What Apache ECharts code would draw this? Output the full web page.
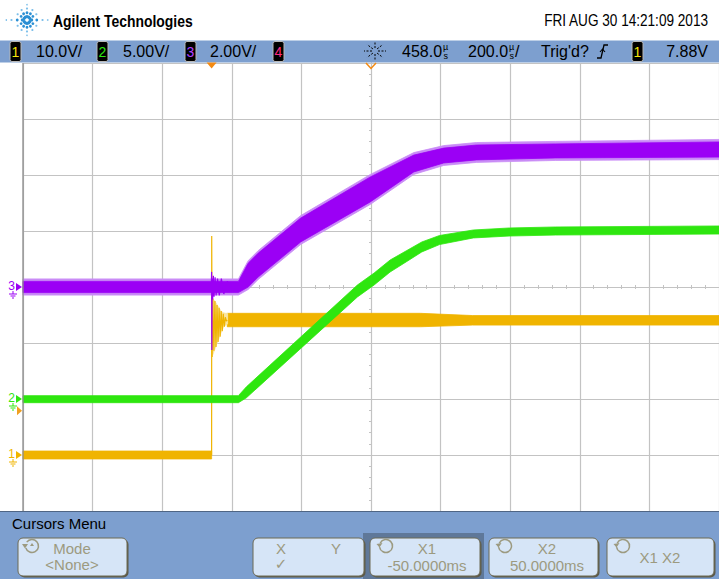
<!DOCTYPE html>
<html><head><meta charset="utf-8">
<script src="https://cdn.jsdelivr.net/npm/echarts@6/dist/echarts.min.js"></script>
<style>html,body{margin:0;padding:0;background:#fff;}#c{width:719px;height:579px;}</style>
</head><body><div id="c"></div>
<script>
// ================= DATA (read from the screen) =================
// time axis: delay 458.0 µs at screen centre, 200 µs/div, 10 divisions
const timeMinUs = -542, timeMaxUs = 1458;
// channel vertical settings: volts at bottom / top of screen
const ch1Range = [-10, 70];   // 10.0 V/div, ground 3 div below centre
const ch2Range = [-10, 30];   // 5.00 V/div, ground 2 div below centre
const ch3Range = [-8, 8];     // 2.00 V/div, ground at centre
const trigLevelV = 7.88;

// Channel 3 (purple) trace envelope, volts
const ch3Time  = [-542, 0, 77, 105, 134, 256, 456, 581, 667, 761, 989, 1458];
const ch3Lower = [-0.20, -0.20, -0.20, 0.00, 0.36, 1.61, 3.04, 4.11, 4.43, 4.54, 4.61, 4.64];
const ch3Upper = [0.20, 0.20, 0.20, 0.85, 1.21, 2.46, 3.93, 4.71, 4.96, 5.07, 5.11, 5.18];
// Channel 3 switching transient at trigger
const ch3SpikeTime = [-1, 0, 0.6, 1.5, 3, 5, 7, 10, 13, 17, 22, 28, 35, 45, 55];
const ch3SpikeV    = [0, 0.54, -2.25, 0.3, -0.45, 0.4, -0.35, 0.35, -0.3, 0.3, -0.3, 0.3, -0.25, 0.2, 0];

// Channel 2 (green) trace envelope, volts
const ch2Time  = [-542, 77, 100, 419, 467, 513, 561, 604, 655, 752, 855, 989, 1458];
const ch2Lower = [-0.33, -0.33, 0.11, 9.11, 10.18, 11.34, 12.28, 13.13, 13.79, 14.38, 14.55, 14.64, 14.73];
const ch2Upper = [0.30, 0.30, 1.09, 10.18, 11.25, 12.41, 13.26, 14.02, 14.60, 15.09, 15.27, 15.36, 15.45];

// Channel 1 (yellow) trace: before trigger, after settling, and the ringing in between
const ch1PreTime  = [-542, 0];
const ch1PreLower = [-0.71, -0.71];
const ch1PreUpper = [0.71, 0.71];
const ch1PostTime  = [45, 600, 750, 1458];
const ch1PostLower = [22.9, 22.9, 23.2, 23.2];
const ch1PostUpper = [25.3, 25.3, 24.9, 24.9];
const ch1RingEnvTime  = [1, 4, 10, 16, 22, 28, 34, 40, 46];
const ch1RingEnvLower = [17.5, 18.0, 19.0, 20.0, 21.0, 22.0, 22.8, 23.2, 23.4];
const ch1RingEnvUpper = [28.2, 27.9, 27.4, 26.8, 26.2, 25.6, 25.4, 25.3, 25.3];
const ch1RingTime = [0, 0.3, 1.5, 3.5, 6.5, 9.5, 12.5, 15.5, 18.5, 21.5, 24.5, 27.5, 30.5, 33.5, 36.5, 39.5, 42.5, 45];
const ch1RingV    = [0, 39.1, 17.5, 27.9, 18.6, 27.5, 19.3, 26.8, 20.2, 26.3, 21.1, 25.7, 22.1, 25.2, 22.9, 24.6, 23.9, 24.1];

// texts
const brandText = 'Agilent Technologies';
const dateText = 'FRI AUG 30 14:21:09 2013';
const chanScales = ['10.0V/', '5.00V/', '2.00V/'];
const delayText = '458.0', timebaseText = '200.0', trigText = "Trig'd?", trigLevelText = '7.88V';
const menuTitle = 'Cursors Menu';

// ================= STYLE =================
const C1 = '#f0b400', C1P = '#f8e4a0', C2 = '#2ee60f', C3 = '#9b00f5', C3L = '#c98cf6', C4 = '#ff2a80';
const BAR = '#7d9fcf', BTN = '#d6e5f7', BTNTXT = '#9c9a80';
const FONT = '"Liberation Sans", Arial, sans-serif';
const GL = 23, GT = 63, GW = 702, GH = 448;

const chart = echarts.init(document.getElementById('c'), null, {renderer: 'svg'});

// envelope band: polygon through the axis scales (upper edge forward, lower edge back)
function band(times, lower, upper, yIdx, color, z) {
  return {
    type: 'custom', xAxisIndex: 0, yAxisIndex: yIdx, z: z, silent: true,
    data: times.map((t, i) => [t, lower[i], upper[i]]),
    encode: {x: 0, y: [1, 2]},
    renderItem: function (params, api) {
      if (params.dataIndex !== 0) return null;
      const pts = [];
      for (let i = 0; i < times.length; i++) pts.push(api.coord([times[i], upper[i]]));
      for (let i = times.length - 1; i >= 0; i--) pts.push(api.coord([times[i], lower[i]]));
      return {type: 'polygon', shape: {points: pts}, style: {fill: color, stroke: color, lineWidth: 0.8}};
    }
  };
}
function thin(times, vals, yIdx, color, z, w) {
  return {type: 'line', xAxisIndex: 0, yAxisIndex: yIdx, data: times.map((t, i) => [t, vals[i]]),
    symbol: 'none', silent: true, z: z, lineStyle: {width: w, color: color}};
}
const fringe = 0.09;

const gridColor = '#c3c3c3';
function divAxis(inside, dim) {
  return {
    type: 'value', min: dim === 'x' ? -5 : -4, max: dim === 'x' ? 5 : 4, interval: 1,
    axisLabel: {show: false},
    axisLine: {show: true, onZero: true, onZeroAxisIndex: dim === 'x' ? 0 : 1, lineStyle: {color: gridColor, width: 1}},
    axisTick: {show: true, inside: inside, length: 2, lineStyle: {color: gridColor}},
    minorTick: {show: true, splitNumber: 5, length: 2, lineStyle: {color: gridColor}},
    splitLine: {show: !inside, lineStyle: {color: gridColor, width: 1.2}}
  };
}

chart.setOption({
  animation: false,
  backgroundColor: '#ffffff',
  grid: {left: GL, top: GT, width: GW, height: GH, show: false},
  xAxis: [
    {type: 'value', min: timeMinUs, max: timeMaxUs, show: false},
    divAxis(false, 'x'),
    divAxis(true, 'x')
  ],
  yAxis: [
    divAxis(false, 'y'),
    {type: 'value', min: ch1Range[0], max: ch1Range[1], show: false},
    {type: 'value', min: ch2Range[0], max: ch2Range[1], show: false},
    {type: 'value', min: ch3Range[0], max: ch3Range[1], show: false},
    divAxis(true, 'y')
  ],
  series: [
    band(ch1PreTime, ch1PreLower, ch1PreUpper, 1, C1, 2),
    band(ch1PostTime, ch1PostLower, ch1PostUpper, 1, C1, 2),
    band(ch1RingEnvTime, ch1RingEnvLower, ch1RingEnvUpper, 1, C1P, 2),
    thin(ch1RingTime, ch1RingV, 1, C1, 2, 1.2),
    band(ch2Time, ch2Lower, ch2Upper, 2, C2, 3),
    band(ch3Time, ch3Lower.map(v => v - fringe), ch3Upper.map(v => v + fringe), 3, C3L, 4),
    band(ch3Time, ch3Lower, ch3Upper, 3, C3, 5),
    thin(ch3SpikeTime, ch3SpikeV, 3, C3, 5, 1.2)
  ]
});

// ================= DECORATION (header, status bar, menu, markers) =================
const g = [];
function T(x, y, s, o) {
  o = o || {};
  const el = {type: 'text', x: x, y: y, z: 100,
    style: {text: s, x: 0, y: 0, fill: o.fill || '#000', font: o.font || ('16px ' + FONT),
      align: o.align || 'left', textAlign: o.align || 'left', verticalAlign: 'middle', textVerticalAlign: 'middle'}};
  if (o.scaleX) el.scaleX = o.scaleX;
  g.push(el);
}
function R(x, y, w, h, fill, o) {
  o = o || {};
  g.push({type: 'rect', z: o.z || 99, shape: {x: x, y: y, width: w, height: h, r: o.r || 0},
    style: {fill: fill, stroke: o.stroke || null, lineWidth: o.lw || 0}});
}
function L(pts, color, w, o) {
  o = o || {};
  g.push({type: 'polyline', z: o.z || 100, shape: {points: pts},
    style: {stroke: color, lineWidth: w, fill: null, lineDash: o.dash || null}});
}
function P(pts, fill, o) {
  o = o || {};
  g.push({type: 'polygon', z: o.z || 100, shape: {points: pts},
    style: {fill: fill, stroke: o.stroke || null, lineWidth: o.lw || 0}});
}

// header logo (spark)
for (let a = 0; a < 12; a++) {
  const ang = a * Math.PI / 6;
  [[4, 1.6], [8.5, 1.4], [13.5, 1.1], [18, 0.8]].forEach(function (d, k) {
    const sx = (a % 3 === 0) ? 1.15 : 0.8;
    if (k === 3 && a % 3 !== 0) return;
    g.push({type: 'circle', z: 100, shape: {cx: 27 + Math.cos(ang) * d[0] * sx, cy: 20 + Math.sin(ang) * d[0] * 0.85, r: d[1]},
      style: {fill: k < 2 ? '#2a8fd4' : '#7fc0ea'}});
  });
}
T(53, 21, brandText, {font: 'bold 16px ' + FONT, scaleX: 0.87});
T(708, 21, dateText, {align: 'right', scaleX: 0.85});

// status bar
R(0, 40.5, 719, 22, BAR);
function chanBox(x, d, col) {
  R(x, 41.5, 11, 20, '#000', {r: 2, stroke: '#b8b8b8', lw: 1, z: 100});
  T(x + 5.5, 51.5, d, {fill: col, font: '14px ' + FONT, align: 'center'});
}
chanBox(10, '1', '#f5e60a'); T(36, 51.5, chanScales[0]);
chanBox(97, '2', C2);        T(123, 51.5, chanScales[1]);
chanBox(185, '3', '#b040ff'); T(210, 51.5, chanScales[2]);
chanBox(273, '4', C4);
// delay icon
for (let a = 0; a < 8; a++) {
  const ang = a * Math.PI / 4;
  L([[375 + Math.cos(ang) * 3, 51 + Math.sin(ang) * 3], [375 + Math.cos(ang) * 11, 51 + Math.sin(ang) * 9]], '#000', 1, {dash: [2, 1.5]});
}
T(402, 51.5, delayText);
T(443, 47, 'µ', {font: '9px ' + FONT}); T(443.5, 56, 's', {font: '9px ' + FONT});
T(468, 51.5, timebaseText);
T(509, 47, 'µ', {font: '9px ' + FONT}); T(509.5, 56, 's', {font: '9px ' + FONT});
T(515, 51.5, '/');
T(541, 51.5, trigText);
L([[597, 58], [601, 58], [604, 45], [608, 45]], '#000', 1.3);
L([[600, 52], [602.5, 49], [605, 52]], '#000', 1.1);
chanBox(632, '1', '#f5e60a');
T(708, 51.5, trigLevelText, {align: 'right'});

// plot left border
L([[GL, GT], [GL, GT + GH]], '#8c8c8c', 1.3, {z: 50});

// bottom menu
R(0, 511, 719, 68, BAR);
L([[0, 511.5], [719, 511.5]], '#4f6584', 1, {z: 99});
T(12, 523, menuTitle, {font: '15px ' + FONT});
R(363, 533, 121, 46, '#5f7899', {z: 99});
function button(x, w) {
  R(x + 1.5, 539.5, w, 38, '#5d5a48', {r: 5, z: 100});
  R(x, 538, w, 38, BTN, {r: 5, stroke: '#6d6a55', lw: 1, z: 100});
}
function turnIcon(cx, cy) {
  g.push({type: 'arc', z: 101, shape: {cx: cx, cy: cy, r: 6.5, startAngle: Math.PI * 1.15, endAngle: Math.PI * 0.95},
    style: {stroke: BTNTXT, lineWidth: 1.5, fill: null}});
  P([[cx - 9.5, cy - 2], [cx - 3.5, cy - 3], [cx - 6.5, cy + 1.5]], BTNTXT, {z: 101});
}
button(18, 109);
g.push({type: 'arc', z: 101, shape: {cx: 32, cy: 546, r: 6.5, startAngle: Math.PI * 1.2, endAngle: Math.PI * 0.9},
  style: {stroke: BTNTXT, lineWidth: 1.5, fill: null}});
P([[22, 544], [28, 544], [25, 548.5]], BTNTXT, {z: 101});
P([[30, 546], [32, 543], [34, 546]], BTNTXT, {z: 101});
T(72, 548, 'Mode', {fill: BTNTXT, font: '15px ' + FONT, align: 'center'});
T(72, 564, '<None>', {fill: BTNTXT, font: '15px ' + FONT, align: 'center'});
button(253, 111);
T(281, 548, 'X', {fill: BTNTXT, font: '15px ' + FONT, align: 'center'});
T(336, 548, 'Y', {fill: BTNTXT, font: '15px ' + FONT, align: 'center'});
T(281, 564, '✓', {fill: BTNTXT, font: '15px "DejaVu Sans", sans-serif', align: 'center'});
button(370, 110); turnIcon(386, 546);
T(427, 548, 'X1', {fill: BTNTXT, font: '15px ' + FONT, align: 'center'});
T(427, 565, '-50.0000ms', {fill: BTNTXT, font: '15px ' + FONT, align: 'center'});
button(489, 109); turnIcon(505, 546);
T(547, 548, 'X2', {fill: BTNTXT, font: '15px ' + FONT, align: 'center'});
T(547, 565, '50.0000ms', {fill: BTNTXT, font: '15px ' + FONT, align: 'center'});
button(607, 107); turnIcon(623, 546);
T(660, 557, 'X1 X2', {fill: BTNTXT, font: '15px ' + FONT, align: 'center'});

// markers positioned through the axes
const trigX = chart.convertToPixel({xAxisIndex: 0}, 0);
const centreX = chart.convertToPixel({xAxisIndex: 1}, 0);
P([[trigX - 5, GT - 0.5], [trigX + 5, GT - 0.5], [trigX, GT + 5.5]], '#f48a12', {z: 101});
L([[centreX - 5, GT], [centreX, GT + 5.5], [centreX + 5, GT]], '#f48a12', 1.5, {z: 101});

function chanMarker(yIdx, d, col) {
  const y = chart.convertToPixel({yAxisIndex: yIdx}, 0);
  T(11.5, y - 1, d, {fill: col, font: '12px ' + FONT, align: 'center'});
  P([[16, y - 4], [22, y], [16, y + 4]], col, {z: 101});
  L([[13, y + 4], [13, y + 7]], col, 1, {z: 101});
  L([[9, y + 7], [17, y + 7]], col, 1, {z: 101});
  L([[10.5, y + 9], [15.5, y + 9]], col, 1, {z: 101});
  L([[12, y + 11], [14, y + 11]], col, 1, {z: 101});
}
chanMarker(1, '1', C1);
chanMarker(2, '2', C2);
chanMarker(3, '3', C3);
const trigY = chart.convertToPixel({yAxisIndex: 1}, trigLevelV);
P([[17, trigY - 4.5], [22, trigY], [17, trigY + 4.5]], '#f0a020', {z: 101});

chart.setOption({graphic: {elements: g}});
</script>
</body></html>
